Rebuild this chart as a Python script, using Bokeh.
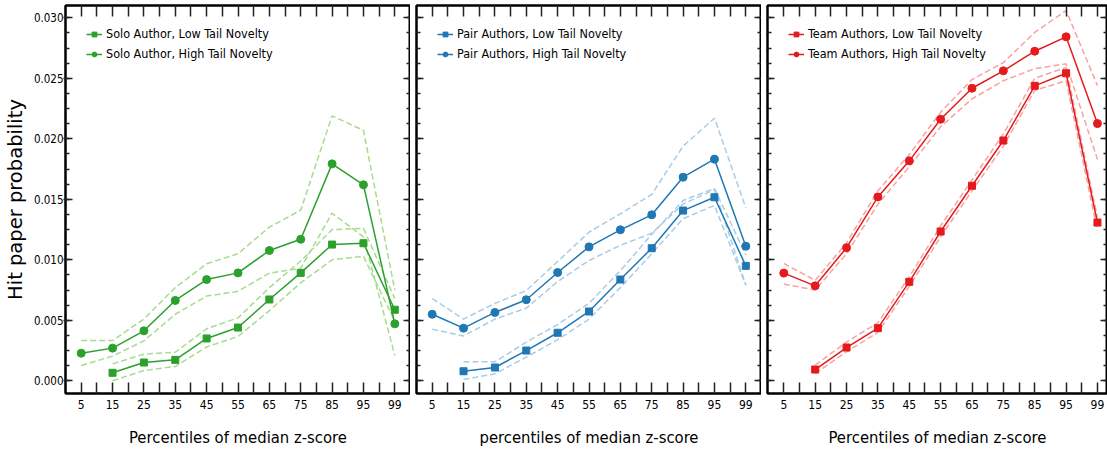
from bokeh.plotting import figure
from bokeh.layouts import row
from bokeh.models import (FixedTicker, LinearAxis, Legend, LegendItem, Range1d,
                          PrintfTickFormatter, CustomJSTickFormatter)
from bokeh.embed import file_html
from bokeh.resources import INLINE

# ---------------- data ----------------
percentiles = ["5", "15", "25", "35", "45", "55", "65", "75", "85", "95", "99"]
low_cats = percentiles[1:]   # low-tail series start at the 15th percentile

solo_low = [0.00066, 0.00151, 0.00173, 0.00350, 0.00440, 0.00672, 0.00892, 0.01126, 0.01137, 0.00587]
solo_low_hi = [0.0014, 0.0022, 0.00236, 0.0043, 0.0052, 0.0077, 0.0099, 0.0125, 0.0126, 0.0068]
solo_low_lo = [0.0000, 0.00085, 0.00118, 0.0028, 0.00366, 0.0058, 0.0081, 0.0100, 0.0103, 0.0049]
solo_high = [0.00228, 0.00270, 0.00413, 0.00664, 0.00837, 0.00892, 0.01077, 0.0117, 0.01793, 0.0162, 0.00471]
solo_high_hi = [0.00333, 0.00333, 0.0051, 0.0077, 0.00967, 0.0105, 0.0127, 0.0141, 0.0219, 0.0207, 0.0075]
solo_high_lo = [0.00126, 0.00204, 0.0033, 0.0055, 0.0070, 0.0074, 0.0089, 0.0093, 0.01385, 0.0119, 0.0021]

pair_low = [0.00079, 0.0011, 0.0025, 0.00397, 0.00573, 0.00837, 0.01096, 0.01407, 0.01517, 0.0095]
pair_low_hi = [0.00157, 0.00157, 0.0032, 0.00465, 0.0064, 0.0091, 0.0121, 0.0149, 0.0159, 0.0104]
pair_low_lo = [0.0001, 0.00058, 0.00195, 0.0034, 0.0051, 0.0077, 0.0105, 0.0134, 0.0145, 0.0079]
pair_high = [0.0055, 0.00435, 0.00565, 0.0067, 0.00895, 0.01107, 0.01248, 0.01372, 0.01683, 0.01832, 0.01112]
pair_high_hi = [0.0068, 0.0051, 0.0064, 0.00746, 0.00986, 0.01228, 0.0138, 0.0154, 0.0194, 0.0217, 0.0143]
pair_high_lo = [0.00427, 0.0037, 0.0051, 0.0060, 0.0082, 0.00994, 0.0112, 0.0122, 0.0146, 0.0158, 0.0079]

team_low = [0.00093, 0.00275, 0.00435, 0.00818, 0.01234, 0.01612, 0.01986, 0.02438, 0.02542, 0.01308]
team_low_hi = [0.0013, 0.0032, 0.0048, 0.0086, 0.0128, 0.0166, 0.0204, 0.0250, 0.0259, 0.0135]
team_low_lo = [0.0006, 0.0024, 0.0040, 0.0078, 0.0119, 0.0157, 0.0194, 0.0240, 0.0248, 0.0124]
team_high = [0.0089, 0.00785, 0.0110, 0.01520, 0.01818, 0.02162, 0.02418, 0.02562, 0.02724, 0.02843, 0.02126]
team_high_hi = [0.0097, 0.0083, 0.0114, 0.0157, 0.0187, 0.0222, 0.0249, 0.0263, 0.0288, 0.0306, 0.0244]
team_high_lo = [0.0080, 0.0075, 0.0105, 0.0146, 0.0177, 0.0210, 0.0233, 0.0248, 0.0258, 0.0262, 0.0183]

y_major = [0.0, 0.005, 0.010, 0.015, 0.020, 0.025, 0.030]

# ---------------- styling ----------------
FONT = "DejaVu Sans Condensed"
FH = 388
Y0, Y1 = -0.00105, 0.03102


def xpos(cats):
    return [percentiles.index(c) for c in cats]


def style_axis(ax, dim, labels):
    ax.axis_line_color = "black"
    ax.axis_line_width = 2
    ax.major_tick_line_color = "#222222"
    ax.minor_tick_line_color = "#222222"
    ax.major_tick_line_width = 1.5
    ax.minor_tick_line_width = 1.5
    if dim == "x":
        ax.major_tick_in = 11
        ax.major_tick_out = 0
        ax.minor_tick_in = 11
        ax.minor_tick_out = 0
    else:
        ax.major_tick_in = 7
        ax.major_tick_out = 2 if labels else 0
        ax.minor_tick_in = 4
        ax.minor_tick_out = 0
    ax.major_label_text_font = FONT
    ax.major_label_text_color = "black"
    if labels:
        ax.major_label_text_font_size = "12px" if dim == "x" else "11.5px"
    else:
        ax.formatter = CustomJSTickFormatter(code="return ''")
        ax.major_label_text_font_size = "1px"
        ax.major_label_standoff = 0


def make_panel(name, low, low_hi, low_lo, high, high_hi, high_lo,
               color, light, xlabel, first, fw, xr):
    xt = FixedTicker(ticks=list(range(len(percentiles))),
                     minor_ticks=[i + 0.5 for i in range(len(percentiles) - 1)])
    yt = FixedTicker(ticks=y_major, minor_ticks=[k * 0.00125 for k in range(25)])
    p = figure(frame_width=fw, frame_height=FH,
               x_range=Range1d(*xr), y_range=Range1d(Y0, Y1),
               output_backend="svg", toolbar_location=None,
               min_border_left=64 if first else 6, min_border_right=0,
               min_border_top=5, min_border_bottom=60)
    p.xgrid.visible = False
    p.ygrid.visible = False
    p.outline_line_color = "black"
    p.outline_line_width = 2
    p.background_fill_color = "white"
    p.border_fill_color = "white"

    p.xaxis.ticker = xt
    p.yaxis.ticker = yt
    top = LinearAxis(ticker=xt)
    right = LinearAxis(ticker=yt)
    p.add_layout(top, "above")
    p.add_layout(right, "right")

    for ax in p.below:
        style_axis(ax, "x", True)
        ax.major_label_overrides = {i: lab for i, lab in enumerate(percentiles)}
        ax.major_label_standoff = 6
        ax.axis_label = xlabel
        ax.axis_label_text_font = FONT
        ax.axis_label_text_font_size = "16.5px"
        ax.axis_label_text_font_style = "normal"
        ax.axis_label_text_color = "black"
        ax.axis_label_standoff = 16
    for ax in p.left:
        style_axis(ax, "y", first)
        if first:
            ax.formatter = PrintfTickFormatter(format="%.3f")
            ax.major_label_standoff = 0
            ax.axis_label = "Hit paper probability"
            ax.axis_label_text_font = "DejaVu Sans"
            ax.axis_label_text_font_size = "19.5px"
            ax.axis_label_text_font_style = "normal"
            ax.axis_label_text_color = "black"
            ax.axis_label_standoff = 4
    style_axis(top, "x", False)
    style_axis(right, "y", False)

    xl = xpos(low_cats)
    xh = xpos(percentiles)
    dash = dict(line_color=light, line_width=1.5, line_dash="6 3")
    p.line(xl, low_hi, **dash)
    p.line(xl, low_lo, **dash)
    p.line(xh, high_hi, **dash)
    p.line(xh, high_lo, **dash)

    l1 = p.line(xl, low, line_color=color, line_width=1.5)
    s1 = p.scatter(xl, low, marker="square", size=7, fill_color=color, line_color=color)
    l2 = p.line(xh, high, line_color=color, line_width=1.5)
    s2 = p.scatter(xh, high, marker="circle", size=8, fill_color=color, line_color=color)

    leg = Legend(items=[LegendItem(label=f"{name}, Low Tail Novelty", renderers=[l1, s1]),
                        LegendItem(label=f"{name}, High Tail Novelty", renderers=[l2, s2])],
                 location="top_left", margin=12, padding=9, spacing=5,
                 glyph_width=16, glyph_height=12, label_standoff=4,
                 label_text_font=FONT, label_text_font_size="12.5px",
                 label_text_color="black",
                 border_line_alpha=0, background_fill_alpha=0)
    p.add_layout(leg)
    return p


p1 = make_panel("Solo Author", solo_low, solo_low_hi, solo_low_lo,
                solo_high, solo_high_hi, solo_high_lo,
                "#2ca02c", "#a6dc8e", "Percentiles of median z-score", True,
                345, (-0.5, 10.5))
p2 = make_panel("Pair Authors", pair_low, pair_low_hi, pair_low_lo,
                pair_high, pair_high_hi, pair_high_lo,
                "#1f77b4", "#a9cce6", "percentiles of median z-score", False,
                345, (-0.5, 10.5))
p3 = make_panel("Team Authors", team_low, team_low_hi, team_low_lo,
                team_high, team_high_hi, team_high_lo,
                "#e41a1c", "#f7a3a3", "Percentiles of median z-score", False,
                340, (-0.52, 10.32))

layout = row(p1, p2, p3, spacing=0)
open("out.html", "w").write(file_html(layout, INLINE))
